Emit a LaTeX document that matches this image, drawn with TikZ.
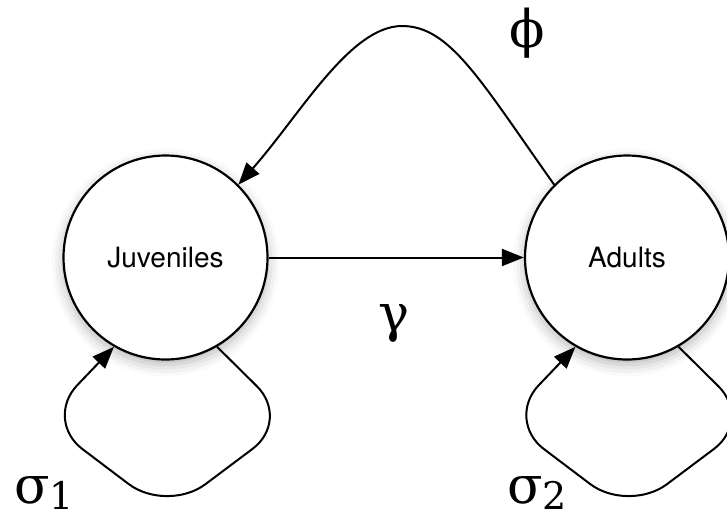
\documentclass[tikz,border=0pt]{standalone}
\usepackage{fontspec}
\setmainfont{DejaVu Serif}
\newfontfamily\labfont{TeX Gyre Heros}
\usetikzlibrary{arrows.meta,shadows.blur}
\begin{document}
\begin{tikzpicture}[x=1pt,y=-1pt,
  state/.style={circle, draw, line width=2.2pt, fill=white, minimum size=204pt, inner sep=0pt,
    font=\labfont\fontsize{28}{30}\selectfont,
    blur shadow={shadow xshift=0pt, shadow yshift=-5pt, shadow blur radius=12pt, shadow opacity=30}},
  conn/.style={line width=2pt, -{Triangle[length=22pt,width=17pt]}},
  loopconn/.style={conn, rounded corners=48pt},
  greek/.style={font=\fontsize{52}{56}\selectfont, inner sep=0pt}]
\useasboundingbox (0,0) rectangle (727,520);
\clip (0,0) rectangle (727,520);
\node[state] (J) at (165.5,257.5) {Juveniles};
\node[state] (A) at (627,257.5) {Adults};
\draw[conn] (J.east) -- (A.west);
\draw[conn] (A.135) .. controls (480,80) and (450,26) .. (402,26)
  .. controls (350,26) and (300,115) .. (J.45);
\draw[loopconn] (J.-60) -- (291,420) -- (167,513) -- (44,420) -- (J.-120);
\draw[loopconn] (A.-60) -- (752.5,420) -- (628.5,513) -- (505.5,420) -- (A.-120);
\node[greek, anchor=base] (phi) at (527,47) {ϕ};
\node[greek, anchor=base] (gam) at (394.5,331) {γ};
\node[greek, anchor=base west] (s1) at (14,503) {σ\raisebox{-6pt}{\fontsize{38}{38}\selectfont 1}};
\node[greek, anchor=base west] (s2) at (507,503) {σ\raisebox{-6pt}{\fontsize{38}{38}\selectfont 2}};
\end{tikzpicture}
\end{document}
